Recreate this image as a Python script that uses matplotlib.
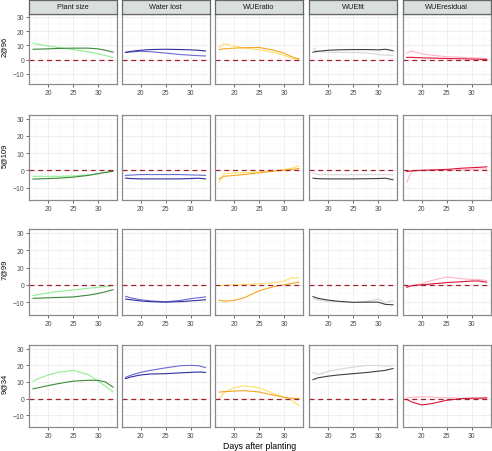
import matplotlib
matplotlib.use("Agg")
import matplotlib.pyplot as plt
from matplotlib.ticker import MultipleLocator

plt.rcParams['font.family'] = ['Liberation Sans', 'DejaVu Sans']

# sampled days (x) shared by every curve
days = [17, 18, 20, 22, 25, 28, 30, 31.5, 33]

metrics = ["Plant size", "Water lost", "WUEratio", "WUEfit", "WUEresidual"]
genotypes = ["2@96", "5@109", "7@99", "9@34"]

# (light curve, dark curve) per metric for each genotype row
plant_light = {
    "2@96": [11.5, 10.8, 9.5, 8.5, 7, 5.5, 4, 2.8, 1.4],
    "5@109": [-3.5, -3.5, -3.5, -3.5, -3.3, -2.7, -2, -1.2, -0.5],
    "7@99": [-6.2, -5.7, -4.7, -3.8, -3, -2, -1.5, -1, -0.5],
    "9@34": [10.5, 12, 14.2, 15.8, 17, 14.5, 10.5, 7.5, 4],
}
plant_dark = {
    "2@96": [7.2, 7.3, 7.5, 7.8, 8, 8, 7.5, 6.5, 5.2],
    "5@109": [-5.1, -5, -4.8, -4.6, -4, -3, -2, -1.2, -0.6],
    "7@99": [-7.8, -7.7, -7.5, -7.3, -7, -6, -5, -4, -2.8],
    "9@34": [5.9, 6.5, 7.8, 9, 10.5, 11, 11, 10, 6.9],
}
water_light = {
    "2@96": [5, 5.3, 5.8, 5.5, 4.5, 3.5, 3, 2.7, 2.5],
    "5@109": [-3, -2.8, -2.5, -2.5, -2.5, -2.5, -2.7, -2.8, -3],
    "7@99": [-6.6, -7.5, -8.6, -9.3, -9.8, -9, -8, -7.5, -7],
    "9@34": [12.8, 14, 15.8, 17, 18.5, 19.8, 20, 19.8, 18.7],
}
water_dark = {
    "2@96": [5, 5.7, 6.5, 7, 7.2, 7, 6.8, 6.5, 6],
    "5@109": [-4.5, -4.8, -5, -5, -5, -5, -4.8, -4.6, -5],
    "7@99": [-8.2, -8.6, -9.3, -9.7, -10, -9.7, -9.3, -9, -8.6],
    "9@34": [12, 13, 14.2, 14.8, 15, 15.5, 15.8, 16, 15.8],
}
ratio_light = {
    "2@96": [8.5, 11, 9.5, 8, 7, 5, 3, 1, 0.3],
    "5@109": [-7, -2, -1.5, -1.5, -1, -0.3, 0.5, 1.2, 2.5],
    "7@99": [-0.5, -0.3, 0, 0.2, 0.6, 1.2, 2.2, 4, 4.1],
    "9@34": [0, 3.5, 6.5, 7.8, 6.5, 3, 1, -1, -4.3],
}
ratio_dark = {
    "2@96": [7, 7.5, 8, 8.3, 8.5, 6.5, 4.5, 2, 0.3],
    "5@109": [-5, -3.5, -3, -2.5, -1.5, -0.5, 0, 0.5, 1],
    "7@99": [-8.8, -9.5, -9, -7.5, -3.5, -1, 0, 0.8, 1.6],
    "9@34": [3.9, 4.2, 4.5, 4.8, 4, 2, 0.8, 0.2, 0],
}
fit_light = {
    "2@96": [8, 5.5, 5.2, 5, 5, 4.5, 3.5, 3, 3],
    "5@109": [-1.5, -2.5, -2.6, -2.6, -2.6, -2.5, -2.5, -2.5, -2.7],
    "7@99": [-8, -8.8, -9.5, -9.8, -10.2, -9.5, -8.3, -10.3, -9],
    "9@34": [15.8, 14.5, 16.3, 17.5, 19, 20, 20, 19.5, 20],
}
fit_dark = {
    "2@96": [5.2, 5.8, 6.5, 6.8, 7, 7, 6.8, 7.2, 6.2],
    "5@109": [-4.6, -4.9, -5, -5, -5, -4.9, -4.8, -4.6, -5.5],
    "7@99": [-6.8, -7.8, -8.8, -9.5, -10.1, -10, -10, -11.3, -11.5],
    "9@34": [11.4, 12.5, 13.5, 14.2, 15, 15.8, 16.5, 17, 18.1],
}
resid_light = {
    "2@96": [4.5, 6, 4, 3, 2, 1.5, 1.2, 1, 0.5],
    "5@109": [-7, -0.5, -0.2, 0, 0, 0.2, 0.5, 0.7, 0.8],
    "7@99": [-1, -0.5, 0.7, 2.5, 4.5, 3.5, 3.2, 3, 2.5],
    "9@34": [0.5, 0.8, 1, 1, 0.5, 0.2, 0, 0, 0],
}
resid_dark = {
    "2@96": [1.5, 1.5, 1.2, 1, 0.7, 0.5, 0.3, 0.2, 0],
    "5@109": [-0.8, -0.3, 0, 0.2, 0.5, 1.2, 1.5, 1.7, 2],
    "7@99": [-1.4, -0.5, 0, 0.5, 1.3, 1.8, 2.2, 2.2, 1.5],
    "9@34": [-0.5, -2, -3.8, -3, -1, 0, 0.3, 0.3, 0.5],
}

series = {
    "Plant size": (plant_light, plant_dark),
    "Water lost": (water_light, water_dark),
    "WUEratio": (ratio_light, ratio_dark),
    "WUEfit": (fit_light, fit_dark),
    "WUEresidual": (resid_light, resid_dark),
}
colours = {
    "Plant size": ("#90EE90", "#3A8A3A"),
    "Water lost": ("#6A6AD0", "#2E2EA0"),
    "WUEratio": ("#FFE066", "#F5A623"),
    "WUEfit": ("#D6D6D6", "#404040"),
    "WUEresidual": ("#FFB6C1", "#DC143C"),
}

W, H = 492, 452
fig = plt.figure(figsize=(W / 100, H / 100), dpi=100)

# panel geometry in pixels (top-origin)
col_left = [29, 121.5, 215, 309, 402.7]
col_w = 88
row_box = [(14.7, 85.0), (115.7, 201.0), (230.0, 315.7), (346.0, 428.3)]
strip_top = 0.5

tick_col = "#4D4D4D"
fs = 4.9

for r, g in enumerate(genotypes):
    top, bot = row_box[r]
    for c, m in enumerate(metrics):
        ax = fig.add_axes([col_left[c] / W, 1 - bot / H, col_w / W, (bot - top) / H])
        ax.set_xlim(16.2, 33.8)
        ax.set_ylim(-17.25, 32.25)
        ax.xaxis.set_major_locator(MultipleLocator(5))
        ax.xaxis.set_minor_locator(MultipleLocator(2.5))
        ax.yaxis.set_major_locator(MultipleLocator(10))
        ax.yaxis.set_minor_locator(MultipleLocator(5))
        ax.grid(True, which="major", color="#EBEBEB", linewidth=0.55)
        ax.grid(True, which="minor", color="#F2F2F2", linewidth=0.3)
        ax.set_axisbelow(True)
        ax.tick_params(which="minor", length=0)
        ax.tick_params(which="major", length=2, width=0.5, color="#333333",
                       labelsize=fs, labelcolor=tick_col, pad=1.5)
        for s in ax.spines.values():
            s.set_color("#8A8A8A")
            s.set_linewidth(0.9)
        if c != 0:
            ax.tick_params(axis="y", left=False, labelleft=False)

        light, dark = series[m]
        lc, dc = colours[m]
        ax.plot(days, light[g], color=lc, linewidth=0.8)
        ax.plot(days, dark[g], color=dc, linewidth=0.8)
        ax.axhline(0, color="#A3202E", linewidth=0.9, linestyle=(0, (4, 3)))

        if r == 0:
            sax = fig.add_axes([col_left[c] / W, 1 - top / H, col_w / W, (top - strip_top) / H])
            sax.set_facecolor("#D9DEDF")
            sax.set_xticks([])
            sax.set_yticks([])
            for s in sax.spines.values():
                s.set_color("#666666")
                s.set_linewidth(0.9)
            sax.text(0.5, 0.5, m, ha="center", va="center", fontsize=5.3,
                     color="#1A1A1A", transform=sax.transAxes)

    fig.text(4.5 / W, 1 - ((top + bot) / 2 - 3) / H, g, rotation=90, ha="center",
             va="center", fontsize=5.4, color="black")

fig.text(260 / W, 1 - 446.5 / H, "Days after planting", ha="center", va="center",
         fontsize=6.3, color="black")

fig.savefig("out.png", dpi=100)
